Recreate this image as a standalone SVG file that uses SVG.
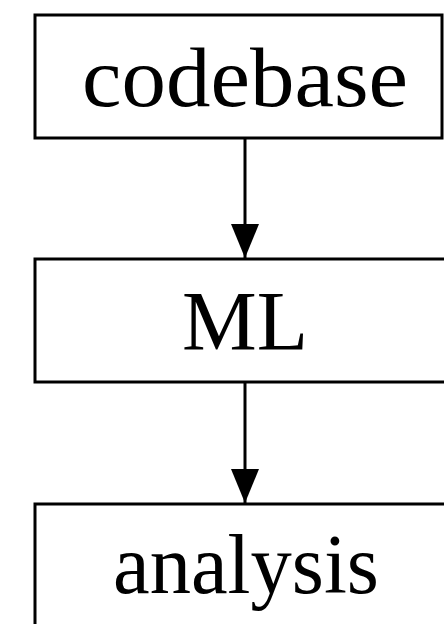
<svg xmlns="http://www.w3.org/2000/svg" width="444" height="624" viewBox="0 0 444 624">
  <style>
    .box { fill: #ffffff; stroke: #000000; stroke-width: 3; }
    .label { font-family: "Liberation Serif", "DejaVu Serif", serif; font-size: 84px; fill: #000000; text-anchor: middle; }
    .edge { stroke: #000000; stroke-width: 3; fill: none; }
  </style>
  <defs>
    <marker id="arrow" markerUnits="userSpaceOnUse" markerWidth="34" markerHeight="30" refX="34" refY="15" orient="auto">
      <path d="M0,1 L34,15 L0,29 Z" fill="#000000"/>
    </marker>
  </defs>
  <rect width="444" height="624" fill="#ffffff"/>
  <g id="node-codebase">
    <rect class="box" x="35" y="15" width="407" height="123"/>
    <text class="label" x="245" y="106" textLength="326" lengthAdjust="spacingAndGlyphs">codebase</text>
  </g>
  <g id="node-ML">
    <rect class="box" x="35" y="259" width="420" height="123"/>
    <text class="label" x="245" y="350">ML</text>
  </g>
  <g id="node-analysis">
    <rect class="box" x="35" y="504" width="420" height="140"/>
    <text class="label" x="246" y="593" textLength="266" lengthAdjust="spacingAndGlyphs">analysis</text>
  </g>
  <g id="connectors">
    <line class="edge" x1="245" y1="138" x2="245" y2="258" marker-end="url(#arrow)"/>
    <line class="edge" x1="245" y1="382" x2="245" y2="503" marker-end="url(#arrow)"/>
  </g>
</svg>
